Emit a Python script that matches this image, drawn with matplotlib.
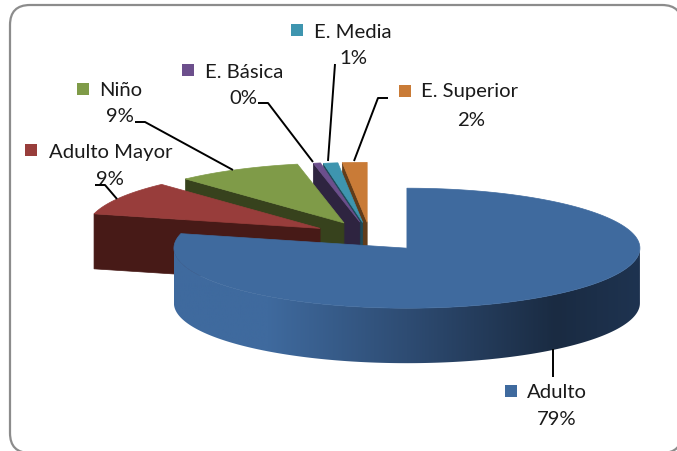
import numpy as np
import matplotlib
matplotlib.use('Agg')
import matplotlib.pyplot as plt
from matplotlib.colors import LinearSegmentedColormap
from matplotlib.patches import FancyBboxPatch, Polygon, Rectangle

plt.rcParams['font.family'] = ['Lato', 'DejaVu Sans']

# values, in drawing order round the pie (clockwise from 12)
labels = ['Adulto', 'Adulto Mayor', 'Niño', 'E. Básica', 'E. Media', 'E. Superior']
shares = [78.9, 9.2, 8.7, 0.5, 1.0, 1.7]
colors = ['#3F6A9E', '#983D3B', '#7F9B48', '#6C4F8C', '#3E95AF', '#C97B37']
wall_colors = ['#1C2E46', '#471A17', '#37421D', '#2E2440', '#1D4A58', '#613C1A']
explode = [60, 58, 57, 55, 53, 53]

# label layout: key square (x, y), name (x, y), percent (x, y)
key_pos = [(505, 386), (25, 145), (77, 84), (182, 65), (291, 25), (399, 86)]
name_pos = [(527, 393), (49, 153), (99, 91), (205, 72), (314, 32), (421, 92)]
pct_pos = [(557, 420), (110, 180), (120, 117), (243, 98), (353, 59), (471, 120)]
leaders = [
    [(553, 350), (553, 378)],
    [(95, 186), (105, 186), (117, 200)],
    [(135, 123), (145, 123), (233, 171)],
    [(258, 104), (268, 104), (313, 163)],
    [(335, 65), (328, 162)],
    [(388, 99), (378, 99), (354, 162)],
]

cx, cy = 370, 237
rx, ry = 233, 60
depth = 55


def project(center, theta):
    return center[0] + rx * np.sin(theta), center[1] - ry * np.cos(theta)


fig = plt.figure(figsize=(6.77, 4.52), dpi=100)
ax = fig.add_axes([0, 0, 1, 1])

box = FancyBboxPatch((10, 6), 672, 448, boxstyle='round,pad=0,rounding_size=20',
                     fc='white', ec='#8C8C8C', lw=1.6, zorder=1)
ax.add_patch(box)

fractions = np.array(shares) / sum(shares)
edges = np.concatenate([[0], np.cumsum(fractions)]) * 2 * np.pi

# back slices first, the big one goes last
for i in [5, 4, 3, 2, 1, 0]:
    a0, a1 = edges[i], edges[i + 1]
    mid = (a0 + a1) / 2
    center = (cx + explode[i] * np.sin(mid), cy - explode[i] * ry / rx * np.cos(mid))
    ts = np.linspace(a0, a1, 200)
    xs, ys = project(center, ts)
    top = np.column_stack([np.r_[center[0], xs], np.r_[center[1], ys]])
    if i == 0:
        rim_t = np.linspace(np.pi / 2, 3 * np.pi / 2, 200)
        rx_t, ry_t = project(center, rim_t)
        rim = np.column_stack([np.r_[rx_t, rx_t[::-1]], np.r_[ry_t, ry_t[::-1] + depth]])
        patch = Polygon(rim, closed=True, fc='none', ec='none', zorder=3)
        ax.add_patch(patch)
        cmap = LinearSegmentedColormap.from_list(
            'rim', [(0, '#3F6A9E'), (0.2, '#3F6A9E'), (0.5, '#2E4C73'),
                    (0.82, '#1A2B42'), (1, '#1E3350')])
        im = ax.imshow(np.linspace(0, 1, 256).reshape(1, -1), cmap=cmap, aspect='auto',
                       extent=(center[0] - rx, center[0] + rx, cy + 200, cy - 100), zorder=3)
        im.set_clip_path(patch)
    else:
        wall = np.array([(xs[0], ys[0]), center, (center[0], center[1] + depth),
                         (xs[0], ys[0] + depth)])
        ax.add_patch(Polygon(wall, closed=True, fc=wall_colors[i], ec=wall_colors[i],
                             lw=0.5, zorder=2 + (5 - i) * 0.1))
    ax.add_patch(Polygon(top, closed=True, fc=colors[i], ec=colors[i], lw=0.5,
                         zorder=(4 if i == 0 else 2.05 + (5 - i) * 0.1)))

for i, name in enumerate(labels):
    ax.add_patch(Rectangle(key_pos[i], 12, 12, fc=colors[i], ec='none', zorder=5))
    ax.text(name_pos[i][0], name_pos[i][1], name, fontsize=14.6, color='#1A1A1A',
            ha='left', va='center', zorder=5)
    ax.text(pct_pos[i][0], pct_pos[i][1], f'{shares[i]:.0f}%', fontsize=14.6, color='#1A1A1A',
            ha='center', va='center', zorder=5)
    pts = np.array(leaders[i])
    ax.plot(pts[:, 0], pts[:, 1], color='black', lw=1.4, zorder=5, solid_capstyle='butt')

ax.set_xlim(0, 677)
ax.set_ylim(452, 0)
ax.axis('off')
fig.savefig('out.png', dpi=100)
